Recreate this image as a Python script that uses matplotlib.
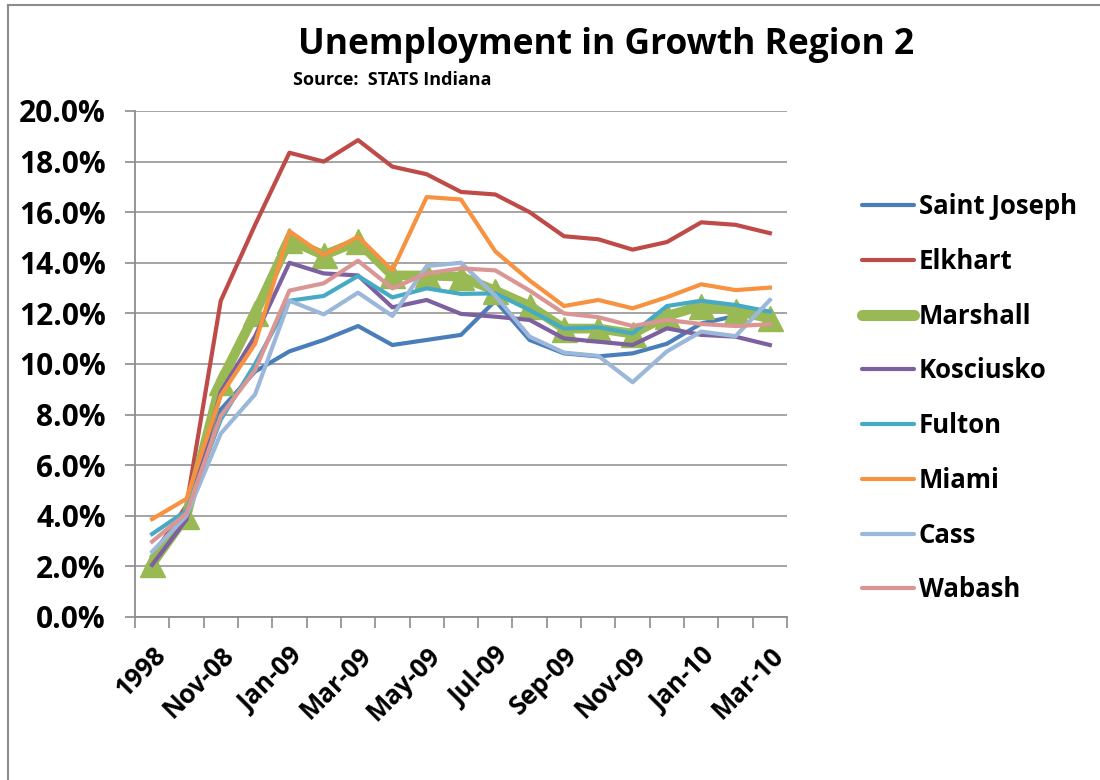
import matplotlib
matplotlib.use('Agg')
import matplotlib.pyplot as plt
from matplotlib.lines import Line2D
from matplotlib.ticker import FixedLocator, FuncFormatter

plt.rcParams['font.family'] = ['Open Sans', 'DejaVu Sans']
plt.rcParams['font.weight'] = 'bold'

# categories (only every other one is labelled on the chart)
months = ['1998', 'Oct-08', 'Nov-08', 'Dec-08', 'Jan-09', 'Feb-09', 'Mar-09', 'Apr-09',
          'May-09', 'Jun-09', 'Jul-09', 'Aug-09', 'Sep-09', 'Oct-09', 'Nov-09',
          'Dec-09', 'Jan-10', 'Feb-10', 'Mar-10']

# unemployment rates in percent
saint_joseph = [2.3, 4.0, 8.2, 9.7, 10.5, 10.95, 11.5, 10.75, 10.95, 11.15, 12.5, 10.95,
                10.42, 10.3, 10.42, 10.8, 11.6, 11.9, 12.1]
elkhart = [2.4, 4.4, 12.5, 15.5, 18.35, 18.0, 18.85, 17.8, 17.5, 16.8, 16.7, 16.0,
           15.05, 14.93, 14.52, 14.82, 15.6, 15.5, 15.17]
marshall = [2.1, 4.0, 9.3, 12.0, 14.9, 14.3, 14.85, 13.5, 13.5, 13.45, 12.9, 12.3,
            11.4, 11.4, 11.2, 11.9, 12.3, 12.1, 11.8]
kosciusko = [2.06, 3.85, 8.9, 11.1, 14.0, 13.58, 13.5, 12.24, 12.53, 11.98, 11.87, 11.74,
             11.01, 10.88, 10.75, 11.41, 11.15, 11.08, 10.75]
fulton = [3.28, 4.2, 7.8, 10.0, 12.5, 12.69, 13.48, 12.63, 12.99, 12.77, 12.79, 12.13,
          11.4, 11.45, 11.21, 12.29, 12.5, 12.33, 12.07]
miami = [3.87, 4.67, 8.75, 10.8, 15.25, 14.3, 15.03, 13.7, 16.6, 16.5, 14.45, 13.3,
         12.29, 12.53, 12.2, 12.64, 13.15, 12.92, 13.02]
cass = [2.58, 4.0, 7.25, 8.8, 12.5, 11.96, 12.82, 11.9, 13.87, 14.0, 12.7, 11.08,
        10.45, 10.32, 9.28, 10.5, 11.28, 11.1, 12.53]
wabash = [2.98, 4.1, 7.95, 9.76, 12.9, 13.19, 14.08, 12.99, 13.58, 13.78, 13.7, 12.9,
          12.0, 11.85, 11.5, 11.74, 11.58, 11.5, 11.57]

names = ['Saint Joseph', 'Elkhart', 'Marshall', 'Kosciusko', 'Fulton', 'Miami', 'Cass', 'Wabash']
series = [saint_joseph, elkhart, marshall, kosciusko, fulton, miami, cass, wabash]
colors = ['#4A7EBB', '#BE4B48', '#98B954', '#7D60A0', '#46AAC5', '#F69240', '#9BB7D9', '#D99694']

fig = plt.figure(figsize=(11, 7.8), dpi=100)
ax = fig.add_axes([0.1227, 0.209, 0.5928, 0.6487])

x = list(range(len(months)))
handles = []
for name, vals, c in zip(names, series, colors):
    if name == 'Marshall':
        ax.plot(x, vals, color=c, lw=7, marker='^', markersize=18, zorder=3,
                solid_joinstyle='miter')
        handles.append(Line2D([], [], color=c, lw=8, marker='^', markersize=5,
                              solid_capstyle='round'))
    else:
        ax.plot(x, vals, color=c, lw=3, zorder=3)
        handles.append(Line2D([], [], color=c, lw=3, solid_capstyle='round'))

ax.set_xlim(-0.5, len(months) - 0.5)
ax.set_ylim(0, 20)
ax.set_yticks([0, 2, 4, 6, 8, 10, 12, 14, 16, 18, 20])
ax.yaxis.set_major_formatter(FuncFormatter(lambda v, p: '%.1f%%' % v))
ax.grid(axis='y', color='#8c8c8c', lw=1.1)
ax.set_axisbelow(True)

ax.xaxis.set_major_locator(FixedLocator([i - 0.5 for i in range(len(months) + 1)]))
ax.xaxis.set_major_formatter(FuncFormatter(lambda v, p: ''))
ax.xaxis.set_minor_locator(FixedLocator(x[::2]))
ax.set_xticklabels([months[i] for i in x[::2]], minor=True, rotation=45, ha='right',
                   rotation_mode='anchor', fontsize=18.5, fontweight='bold')
ax.tick_params(axis='x', which='minor', length=0, pad=18)
ax.tick_params(axis='x', which='major', length=8, color='#8c8c8c', width=1.2)
ax.tick_params(axis='y', length=7, color='#8c8c8c', width=1.2, labelsize=21.5, pad=14)
for lab in ax.get_yticklabels():
    lab.set_fontweight('bold')

for s in ['top', 'right']:
    ax.spines[s].set_visible(False)
for s in ['left', 'bottom']:
    ax.spines[s].set_color('#8c8c8c')
    ax.spines[s].set_linewidth(1.3)

fig.text(0.551, 0.942, 'Unemployment in Growth Region 2', ha='center', va='center',
         fontsize=25.5, fontweight='bold')
fig.text(0.266, 0.897, 'Source:  STATS Indiana', ha='left', va='center',
         fontsize=13, fontweight='bold')

fig.legend(handles, names, loc='upper left', bbox_to_anchor=(0.763, 0.782), frameon=False,
           handlelength=2.0, handletextpad=0.2, labelspacing=1.08,
           prop={'weight': 'bold', 'size': 18.5})

# outer chart frame (left and top edges)
fig.add_artist(Line2D([8 / 1100, 8 / 1100], [0, 1 - 5 / 780], color='#8c8c8c', lw=1.5))
fig.add_artist(Line2D([8 / 1100, 1], [1 - 5 / 780, 1 - 5 / 780], color='#8c8c8c', lw=1.5))

fig.savefig('out.png', dpi=100)
